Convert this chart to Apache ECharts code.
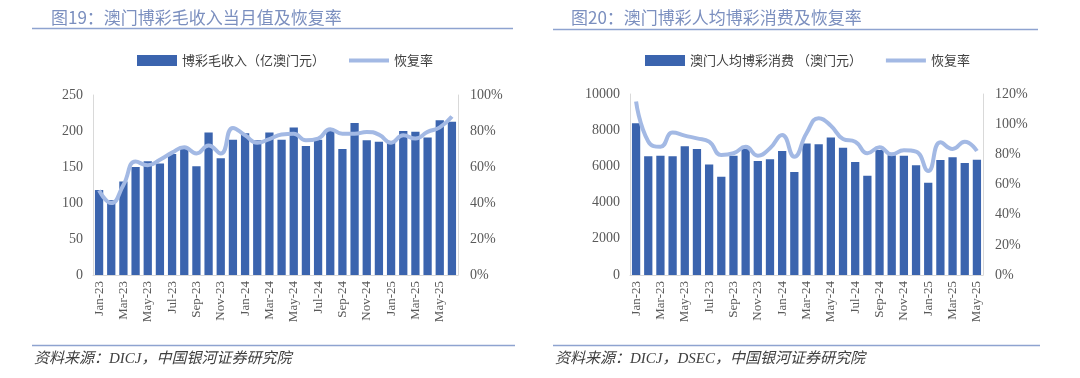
<!DOCTYPE html>
<html>
<head>
<meta charset="utf-8">
<script src="https://cdn.jsdelivr.net/npm/echarts@6/dist/echarts.min.js"></script>
<style>
html,body{margin:0;padding:0;background:#fff;}
#c{width:1080px;height:378px;}
</style>
</head>
<body>
<div id="c"></div>
<script>
// ---- data ----
const monthsA = ['Jan-23','Feb-23','Mar-23','Apr-23','May-23','Jun-23','Jul-23','Aug-23','Sep-23','Oct-23','Nov-23','Dec-23',
  'Jan-24','Feb-24','Mar-24','Apr-24','May-24','Jun-24','Jul-24','Aug-24','Sep-24','Oct-24','Nov-24','Dec-24',
  'Jan-25','Feb-25','Mar-25','Apr-25','May-25','Jun-25'];
const ggr = [118,104,130,150,158,155,168,175,151,198,162,188,
  197,187,198,188,205,179,188,201,175,211,187,185,
  184,200,199,191,215,213];
const ggrRecovery = [0.47,0.40,0.50,0.63,0.61,0.64,0.68,0.71,0.675,0.72,0.675,0.817,
  0.776,0.735,0.755,0.78,0.785,0.748,0.758,0.81,0.785,0.785,0.795,0.78,
  0.735,0.776,0.758,0.795,0.82,0.88];

const monthsB = monthsA.slice(0,29);
const spend = [8380,6560,6590,6560,7110,6960,6110,5430,6590,6980,6300,6390,
  6850,5690,7260,7220,7590,7030,6240,5490,6900,6610,6590,6060,
  5100,6350,6500,6190,6370];
const spendRecovery = [1.15,0.885,0.85,0.944,0.924,0.906,0.884,0.796,0.807,0.85,0.791,0.84,
  0.928,0.784,0.94,1.04,0.99,0.902,0.884,0.807,0.847,0.80,0.827,0.818,
  0.69,0.88,0.836,0.884,0.822];

const leftTicks = {min:0, max:250, interval:50};
const rightTicksA = {min:0, max:1, interval:0.2};
const spendTicks = {min:0, max:10000, interval:2000};
const rightTicksB = {min:0, max:1.2, interval:0.2};

// ---- styles ----
const barColor = '#3b64ae';
const lineColor = '#a3b9e4';
const axisGray = '#d9d9d9';
const labelGray = '#595959';
const serif = '"Liberation Serif","DejaVu Serif",serif';
const cjk = '"Noto Sans CJK SC","Noto Sans",sans-serif';
const lineIcon = 'path://M0,0 H40 V4 H0 Z';

function yAxisL(gi, t){
  return {type:'value', gridIndex:gi, min:t.min, max:t.max, interval:t.interval,
    axisLine:{show:true, lineStyle:{color:axisGray, width:1}}, axisTick:{show:false},
    splitLine:{show:false},
    axisLabel:{color:labelGray, fontFamily:serif, fontSize:14, margin:10, formatter:v=>String(v)}};
}
function yAxisR(gi, t){
  return {type:'value', gridIndex:gi, position:'right', min:t.min, max:t.max, interval:t.interval,
    axisLine:{show:true, lineStyle:{color:axisGray, width:1}}, axisTick:{show:false},
    splitLine:{show:false},
    axisLabel:{color:labelGray, fontFamily:serif, fontSize:14, margin:12,
      formatter:v=>Math.round(v*100)+'%'}};
}
function xAxis(gi, cats){
  return {type:'category', gridIndex:gi, data:cats,
    axisLine:{show:true, lineStyle:{color:axisGray, width:1}}, axisTick:{show:false},
    axisLabel:{color:labelGray, fontFamily:serif, fontSize:13, rotate:90, interval:1, margin:6}};
}

const chart = echarts.init(document.getElementById('c'), null, {renderer:'canvas'});
chart.setOption({
  backgroundColor:'#ffffff',
  animation:false,
  title:[
    {text:'图19：澳门博彩毛收入当月值及恢复率', left:46, top:4,
      textStyle:{color:'#7b8fbf', fontFamily:cjk, fontSize:17, fontWeight:'normal'}},
    {text:'图20：澳门博彩人均博彩消费及恢复率', left:566, top:4,
      textStyle:{color:'#7b8fbf', fontFamily:cjk, fontSize:17, fontWeight:'normal'}}
  ],
  legend:[
    {left:132, top:49, itemWidth:40, itemHeight:11, itemGap:24,
      textStyle:{color:'#404040', fontFamily:cjk, fontSize:13},
      data:[{name:'博彩毛收入（亿澳门元）', icon:'rect'},{name:'恢复率', icon:lineIcon}]},
    {left:640, top:49, itemWidth:40, itemHeight:11, itemGap:24,
      textStyle:{color:'#404040', fontFamily:cjk, fontSize:13},
      data:[{name:'澳门人均博彩消费 （澳门元）', icon:'rect'},{name:'恢复率 ', icon:lineIcon}]}
  ],
  grid:[
    {left:93, right:622, top:95, bottom:103},
    {left:630, right:97, top:94, bottom:103}
  ],
  xAxis:[xAxis(0, monthsA), xAxis(1, monthsB)],
  yAxis:[yAxisL(0, leftTicks), yAxisR(0, rightTicksA), yAxisL(1, spendTicks), yAxisR(1, rightTicksB)],
  series:[
    {name:'博彩毛收入（亿澳门元）', type:'bar', xAxisIndex:0, yAxisIndex:0, data:ggr,
      barCategoryGap:'32%', itemStyle:{color:barColor}},
    {name:'恢复率', type:'line', xAxisIndex:0, yAxisIndex:1, data:ggrRecovery,
      smooth:0.5, symbol:'none', lineStyle:{color:lineColor, width:4}, itemStyle:{color:lineColor}},
    {name:'澳门人均博彩消费 （澳门元）', type:'bar', xAxisIndex:1, yAxisIndex:2, data:spend,
      barCategoryGap:'32%', itemStyle:{color:barColor}},
    {name:'恢复率 ', type:'line', xAxisIndex:1, yAxisIndex:3, data:spendRecovery,
      smooth:0.5, symbol:'none', lineStyle:{color:lineColor, width:4}, itemStyle:{color:lineColor}}
  ],
  graphic:[
    {type:'line', shape:{x1:32,y1:28.5,x2:513,y2:28.5}, style:{stroke:'#8ea3d0', lineWidth:1.5}},
    {type:'line', shape:{x1:553,y1:29.5,x2:1038,y2:29.5}, style:{stroke:'#8ea3d0', lineWidth:1.5}},
    {type:'line', shape:{x1:32,y1:345.5,x2:515,y2:345.5}, style:{stroke:'#8ea3d0', lineWidth:1.5}},
    {type:'line', shape:{x1:553,y1:345.5,x2:1040,y2:345.5}, style:{stroke:'#8ea3d0', lineWidth:1.5}},
    {type:'text', left:34, top:352, style:{text:'资料来源：DICJ，中国银河证券研究院',
      font:'italic 15px "Liberation Serif","Noto Sans CJK SC",serif', fill:'#404040'}},
    {type:'text', left:555, top:352, style:{text:'资料来源：DICJ，DSEC，中国银河证券研究院',
      font:'italic 15px "Liberation Serif","Noto Sans CJK SC",serif', fill:'#404040'}}
  ]
});
</script>
</body>
</html>
